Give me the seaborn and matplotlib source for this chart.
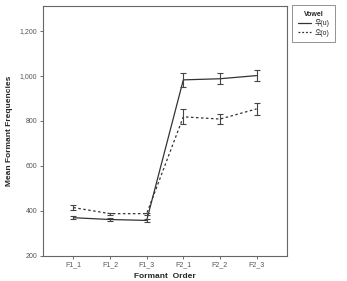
import numpy as np
import pandas as pd
import seaborn as sns
import matplotlib.pyplot as plt
from matplotlib.lines import Line2D

order = ['F1_1', 'F1_2', 'F1_3', 'F2_1', 'F2_2', 'F2_3']
u_mean = [370, 362, 358, 982, 987, 1001]
u_err = [7, 5, 6, 30, 25, 25]
o_mean = [415, 388, 388, 818, 808, 853]
o_err = [12, 4, 5, 33, 22, 27]
vowels = ['우(u)', '오(o)']

sns.set_style('white')
plt.rcParams['font.family'] = ['Liberation Sans', 'Noto Sans CJK KR']

df = pd.DataFrame({
    'Formant Order': order * 2,
    'Mean': u_mean + o_mean,
    'Vowel': [vowels[0]] * 6 + [vowels[1]] * 6,
})

fig = plt.figure(figsize=(3.47, 2.81), dpi=100)
ax = fig.add_axes([43 / 347, 25 / 281, 244 / 347, 250 / 281])

sns.lineplot(data=df, x='Formant Order', y='Mean', hue='Vowel', style='Vowel',
             palette=['#333333', '#333333'], dashes=[(None, None), (2, 2)],
             linewidth=0.9, sort=False, ax=ax, legend=False)

xs = np.arange(len(order))
ax.errorbar(xs, u_mean, yerr=u_err, fmt='none', ecolor='#444444',
            elinewidth=0.8, capsize=2.5, capthick=0.8)
ax.errorbar(xs, o_mean, yerr=o_err, fmt='none', ecolor='#444444',
            elinewidth=0.8, capsize=2.5, capthick=0.8)

ax.set_xlim(-0.83, 5.83)
ax.set_ylim(200, 1310)
ax.set_yticks([200, 400, 600, 800, 1000, 1200])
ax.set_yticklabels(['200', '400', '600', '800', '1,000', '1,200'])
ax.set_xticks(xs)
ax.set_xticklabels(order)
ax.tick_params(axis='both', labelsize=5, length=2, width=0.6, direction='out',
               colors='#555555', pad=2)
ax.tick_params(axis='x', bottom=True)
ax.tick_params(axis='y', left=True)
for s in ax.spines.values():
    s.set_color('#666666')
    s.set_linewidth(0.8)

ax.set_xlabel('Formant  Order', fontsize=6, fontweight='bold', labelpad=3)
ax.set_ylabel('Mean Formant Frequencies', fontsize=6, fontweight='bold', labelpad=5)

handles = [Line2D([], [], color='#333333', lw=0.9),
           Line2D([], [], color='#333333', lw=0.9, linestyle=(0, (1.5, 1.5)))]
leg = fig.legend(handles, vowels, title='Vowel', loc='upper left',
                 bbox_to_anchor=(292 / 347, 1 - 5 / 281), fontsize=5,
                 title_fontproperties={'weight': 'bold', 'size': 5},
                 frameon=True, fancybox=False, handlelength=2.0,
                 handletextpad=0.4, borderpad=0.8, labelspacing=0.25,
                 borderaxespad=0)
leg.get_frame().set_edgecolor('#777777')
leg.get_frame().set_linewidth(0.7)

fig.savefig('out.png', dpi=100)
